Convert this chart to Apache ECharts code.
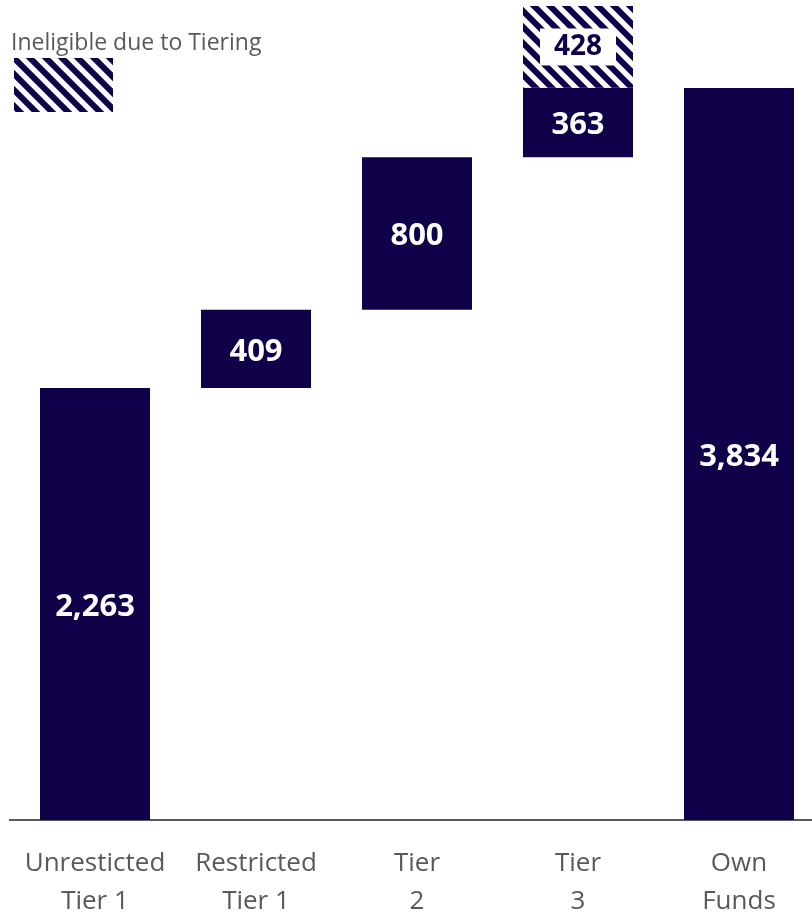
<!DOCTYPE html>
<html>
<head>
<meta charset="utf-8">
<script src="https://cdn.jsdelivr.net/npm/echarts@6/dist/echarts.min.js"></script>
<style>html,body{margin:0;padding:0;background:#fff}#c{width:812px;height:914px}</style>
</head>
<body>
<div id="c"></div>
<script>
const categories = ['Unresticted\nTier 1', 'Restricted\nTier 1', 'Tier\n2', 'Tier\n3', 'Own\nFunds'];
const eligible = [2263, 409, 800, 363, 3834];
const ineligible = [0, 0, 0, 428, 0];
const isTotal = [false, false, false, false, true];
const legendText = 'Ineligible due to Tiering';

const NAVY = '#10004A';
const FONT = 'Open Sans';

// invisible base for waterfall, computed from the eligible values
const base = [];
let run = 0;
eligible.forEach((v, i) => {
  if (isTotal[i]) { base.push(0); }
  else { base.push(run); run += v; }
});

function makePattern() {
  const s = 16;
  const c = document.createElement('canvas');
  c.width = s; c.height = s;
  const ctx = c.getContext('2d');
  ctx.fillStyle = '#fff';
  ctx.fillRect(0, 0, s, s);
  ctx.strokeStyle = NAVY;
  ctx.lineWidth = 6;
  ctx.beginPath();
  for (const k of [-1, 0, 1]) {
    ctx.moveTo(k * s - s, -s);
    ctx.lineTo(k * s + 2 * s, 2 * s);
  }
  ctx.stroke();
  return c;
}
const pattern = { image: makePattern(), repeat: 'repeat' };

const chart = echarts.init(document.getElementById('c'));
chart.setOption({
  animation: false,
  grid: { left: 14.5, right: -7.5, top: 0, bottom: 94, containLabel: false, outerBoundsMode: 'none' },
  xAxis: {
    type: 'category',
    data: categories,
    axisLine: { lineStyle: { color: '#595959', width: 2 } },
    axisTick: { show: false },
    axisLabel: { color: '#595959', fontFamily: FONT, fontSize: 26, lineHeight: 38, margin: 25, interval: 0 }
  },
  yAxis: { type: 'value', min: 0, max: 4295, show: false, splitLine: { show: false } },
  graphic: [
    { type: 'line', shape: { x1: 9, y1: 820, x2: 15, y2: 820 }, style: { stroke: '#595959', lineWidth: 2 } },
    { type: 'text', left: 11, top: 32, style: { text: legendText, fill: '#595959', font: '23px "' + FONT + '"' } },
    { type: 'rect', left: 14, top: 58, shape: { width: 99, height: 54 }, style: { fill: pattern } }
  ],
  series: [
    { type: 'bar', stack: 'w', data: base, barWidth: 110, itemStyle: { color: 'transparent' }, silent: true },
    {
      type: 'bar', stack: 'w', data: eligible, barWidth: 110,
      itemStyle: { color: NAVY },
      label: {
        show: true, position: 'inside', offset: [0, 3], color: '#fff', fontFamily: FONT, fontWeight: 'bold', fontSize: 31,
        formatter: p => p.value.toLocaleString('en-US')
      }
    },
    {
      type: 'bar', stack: 'w', barWidth: 110,
      data: ineligible.map(v => ({ value: v, label: { show: v > 0 } })),
      itemStyle: { color: pattern },
      label: {
        position: 'inside', color: NAVY, fontFamily: FONT, fontWeight: 'bold', fontSize: 28,
        backgroundColor: '#fff', padding: [6, 14, 3, 14],
        formatter: p => p.value.toLocaleString('en-US')
      }
    }
  ]
});
</script>
</body>
</html>
